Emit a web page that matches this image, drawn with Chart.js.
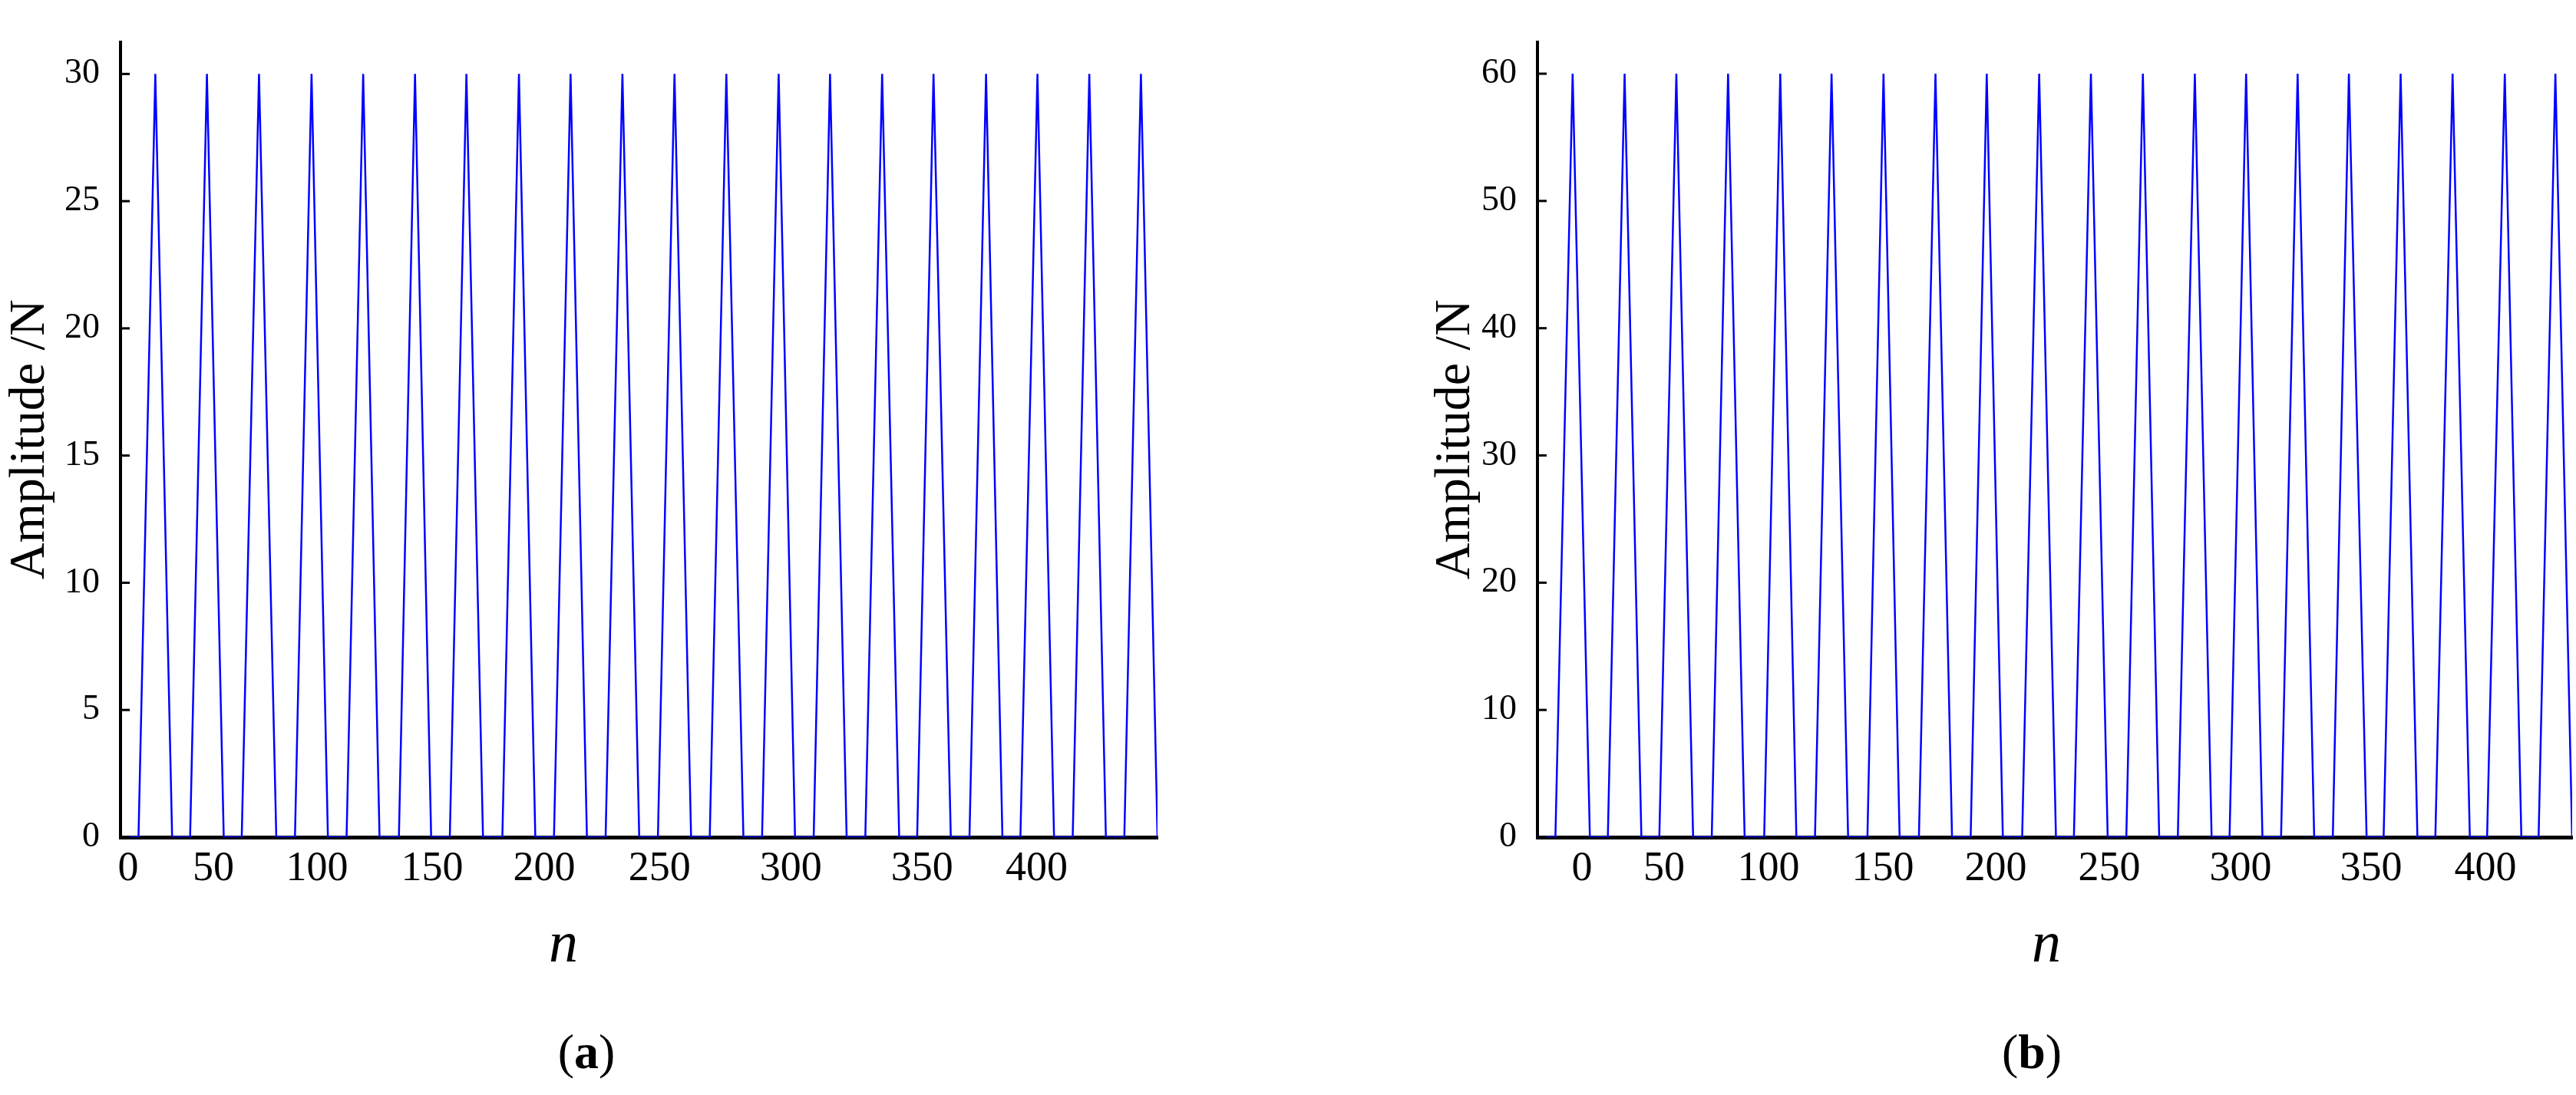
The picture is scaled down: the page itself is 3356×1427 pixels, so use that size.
<!DOCTYPE html>
<html><head><meta charset="utf-8">
<script src="https://cdn.jsdelivr.net/npm/chart.js@4.4.1/dist/chart.umd.min.js"></script>
<style>
body{margin:0;background:#fff;width:3356px;height:1427px;position:relative;overflow:hidden;font-family:"Liberation Serif",serif}
.cv{position:absolute;top:0}
.lbl{position:absolute;transform:translate(-50%,-50%);color:#000;white-space:nowrap}
</style></head><body>
<div class="cv" style="left:0;width:1530px;height:1200px"><canvas id="ca"></canvas></div>
<div class="cv" style="left:1857px;width:1499px;height:1200px"><canvas id="cb"></canvas></div>
<div class="lbl" style="left:734px;top:1227px;font-size:76px;font-style:italic">n</div>
<div class="lbl" style="left:2666px;top:1227px;font-size:76px;font-style:italic">n</div>
<div class="lbl" style="left:764px;top:1371px;font-size:64px">(<b>a</b>)</div>
<div class="lbl" style="left:2647px;top:1371px;font-size:64px">(<b>b</b>)</div>
<script>
// Panel (a)
const xA = [0,7.8,15.1,22.4,30.2,37.5,44.8,52.6,60.1,67.6,75.7,82.9,90.0,98.1,105.3,112.4,120.8,127.8,134.8,142.9,150.1,157.3,165.7,172.9,180.0,188.1,195.3,202.4,210.5,217.8,225.1,233.2,240.4,247.6,255.7,262.9,270.3,278.4,285.6,292.7,300.8,307.9,315.1,323.2,330.5,337.9,345.7,352.8,360.3,368.4,375.6,382.7,390.5,397.9,405.1,413.2,420.4,427.6,435.6,442.8,450];
const yA = [0,0,30,0,0,30,0,0,30,0,0,30,0,0,30,0,0,30,0,0,30,0,0,30,0,0,30,0,0,30,0,0,30,0,0,30,0,0,30,0,0,30,0,0,30,0,0,30,0,0,30,0,0,30,0,0,30,0,0,30,0];
const xTickPosA = [3.3,40.3,85.3,135.2,183.9,233.9,290.9,347.8,397.5];
const yTicksA = [0,5,10,15,20,25,30];
// Panel (b)
const xB = [0,7.8,15.3,22.8,30.6,37.9,45.2,53.0,60.4,67.7,75.8,82.9,90.1,98.6,105.6,112.6,120.7,127.9,135.1,143.5,150.5,157.5,165.9,173.1,180.3,188.4,195.4,202.4,210.8,218.2,225.5,233.3,240.7,248.0,256.1,263.3,270.4,278.5,285.9,293.2,301.0,308.2,315.3,323.4,330.6,337.8,345.9,352.9,360.6,368.0,375.4,382.7,390.5,398.0,405.5,413.0,420.7,427.9,435.4,442.7,450];
const yB = [0,0,60,0,0,60,0,0,60,0,0,60,0,0,60,0,0,60,0,0,60,0,0,60,0,0,60,0,0,60,0,0,60,0,0,60,0,0,60,0,0,60,0,0,60,0,0,60,0,0,60,0,0,60,0,0,60,0,0,60,0];
const xTickPosB = [19.4,55.1,100.5,150.2,199.3,248.7,305.8,362.5,412.3];
const yTicksB = [0,10,20,30,40,50,60];
const xTickLabels = ['0','50','100','150','200','250','300','350','400'];

const innerTicks = {
  id:'innerTicks',
  afterDraw(chart){
    const ctx=chart.ctx, y=chart.scales.y, a=chart.chartArea;
    ctx.save(); ctx.strokeStyle='#000'; ctx.lineWidth=3;
    y.ticks.forEach(t=>{const p=y.getPixelForValue(t.value);
      ctx.beginPath(); ctx.moveTo(a.left,p); ctx.lineTo(a.left+12,p); ctx.stroke();});
    ctx.restore();
  }
};

function make(id, xs, ys, yMax, yTicks, xTickPos, yAxisW){
  new Chart(document.getElementById(id),{
    type:'line',
    data:{datasets:[{data:xs.map((x,i)=>({x:x,y:ys[i]})),borderColor:'#0000ff',borderWidth:2.5,pointRadius:0,tension:0,fill:false}]},
    options:{
      responsive:true,maintainAspectRatio:false,animation:false,
      layout:{padding:{top:18,right:id==='ca'?22:5,bottom:16,left:0}},
      plugins:{legend:{display:false},tooltip:{enabled:false}},
      scales:{
        x:{type:'linear',min:0,max:450,
          grid:{display:false,drawTicks:false},
          border:{display:true,color:'#000',width:5},
          afterBuildTicks:s=>{s.ticks=xTickPos.map(v=>({value:v}));},
          afterFit:s=>{s.height=93;},
          ticks:{padding:9,maxRotation:0,autoSkip:false,color:'#000',font:{family:'Liberation Serif',size:54},
            callback:(v,i)=>xTickLabels[i]}},
        y:{min:0,max:yMax,
          grid:{display:false,drawTicks:false},
          border:{display:true,color:'#000',width:4},
          afterBuildTicks:s=>{s.ticks=yTicks.map(v=>({value:v}));},
          afterFit:s=>{s.width=yAxisW;},
          title:{display:true,text:'Amplitude /N',color:'#000',font:{family:'Liberation Serif',size:66},padding:0},
          ticks:{padding:27,color:'#000',font:{family:'Liberation Serif',size:46}}}
      }
    },
    plugins:[innerTicks]
  });
}
make('ca', xA, yA, 31.26, yTicksA, xTickPosA, 157);
make('cb', xB, yB, 62.5, yTicksB, xTickPosB, 146);
</script></body></html>
